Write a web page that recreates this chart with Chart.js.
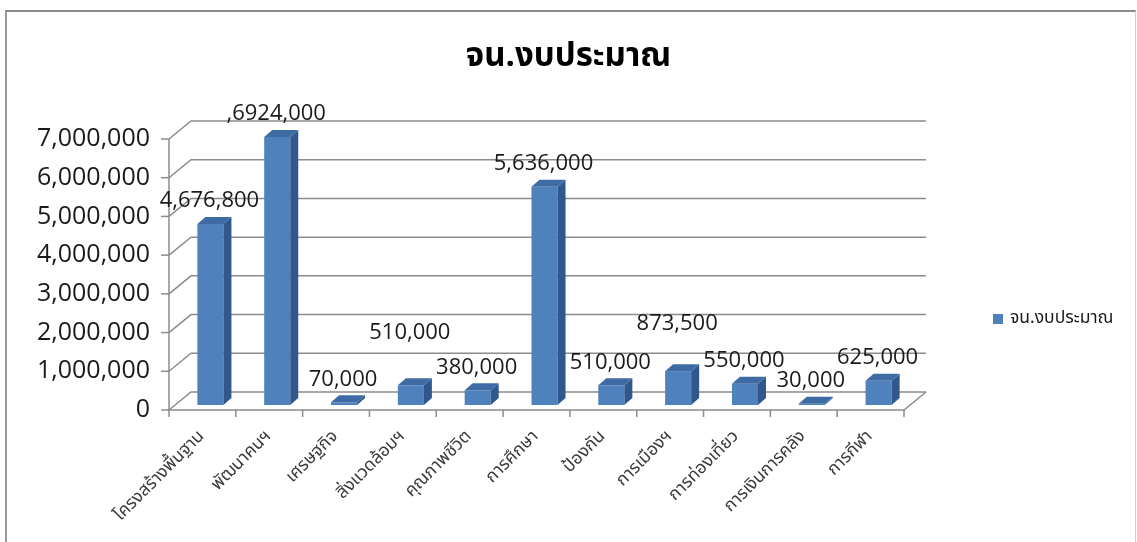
<!DOCTYPE html>
<html>
<head>
<meta charset="utf-8">
<script src="https://cdn.jsdelivr.net/npm/chart.js@4.4.1/dist/chart.umd.min.js"></script>
<style>
  html, body { margin: 0; padding: 0; background: #ffffff; }
  #wrap { position: relative; width: 1137px; height: 542px; overflow: hidden; }
  #frame { position: absolute; left: 5px; top: 10px; width: 1128px; height: 560px;
           border-top: 2px solid #8a8a8a; border-left: 2px solid #9a9a9a; border-right: 1px solid #cfcfcf; }
  canvas { position: absolute; left: 0; top: 0; }
</style>
</head>
<body>
<div id="wrap">
  <div id="frame"></div>
  <canvas id="c" width="1137" height="542"></canvas>
</div>
<script>
// ---- data ----
const categories = ['โครงสร้างพื้นฐาน', 'พัฒนาคนฯ', 'เศรษฐกิจ', 'สิ่งแวดล้อมฯ', 'คุณภาพชีวิต', 'การศึกษา', 'ป้องกัน', 'การเมืองฯ', 'การท่องเที่ยว', 'การเงินการคลัง', 'การกีฬา'];
const budgetValues = [4676800, 6924000, 70000, 510000, 380000, 5636000, 510000, 873500, 550000, 30000, 625000];
const dataLabelText = ['4,676,800', ',6924,000', '70,000', '510,000', '380,000', '5,636,000', '510,000', '873,500', '550,000', '30,000', '625,000'];
const yTickValues = [0, 1000000, 2000000, 3000000, 4000000, 5000000, 6000000, 7000000];
const seriesName = 'จน.งบประมาณ';
const chartTitle = 'จน.งบประมาณ';

// ---- style ----
const THAI = '"Noto Sans Thai", "Tahoma", "DejaVu Sans", sans-serif';
const NUM = '"Open Sans", "DejaVu Sans", sans-serif';
const WALL = { dx: 22, dy: 18 };      // back wall offset
const BARPLANE = { dx: 8, dy: 5 };    // bar front-face offset from front plane
const DEPTH = { dx: 8, dy: 7 };       // bar depth
const GRID = '#8c8c8c';
const labelLift = [0, 0, 0, 30, 0, 0, 0, 24, 0, 0, 0];

const fmt = v => v.toLocaleString('en-US');

const wall3d = {
  id: 'wall3d',
  beforeDatasetsDraw(chart) {
    const { ctx, chartArea: a, scales: { x, y } } = chart;
    ctx.save();
    ctx.strokeStyle = GRID;
    ctx.lineWidth = 1.5;
    yTickValues.forEach(v => {
      const py = y.getPixelForValue(v);
      ctx.beginPath();
      ctx.moveTo(a.left, py);
      ctx.lineTo(a.left + WALL.dx, py - WALL.dy);
      ctx.lineTo(a.right + WALL.dx, py - WALL.dy);
      ctx.stroke();
      ctx.beginPath();
      ctx.moveTo(a.left - 8, py);
      ctx.lineTo(a.left, py);
      ctx.stroke();
    });
    const y0 = y.getPixelForValue(0);
    const yTop = y.getPixelForValue(yTickValues[yTickValues.length - 1]);
    ctx.beginPath();
    ctx.moveTo(a.left, yTop);
    ctx.lineTo(a.left, y0);
    ctx.stroke();
    ctx.beginPath();
    ctx.moveTo(a.left, y0);
    ctx.lineTo(a.right, y0);
    ctx.lineTo(a.right + WALL.dx, y0 - WALL.dy);
    ctx.stroke();
    const n = categories.length;
    for (let i = 0; i <= n; i++) {
      const px = a.left + (a.right - a.left) * i / n;
      ctx.beginPath();
      ctx.moveTo(px, y0);
      ctx.lineTo(px, y0 + 7);
      ctx.stroke();
    }
    ctx.restore();
  },
  beforeDatasetDraw(chart) {
    chart.ctx.save();
    chart.ctx.translate(BARPLANE.dx, -BARPLANE.dy);
  },
  afterDatasetDraw(chart, args) {
    const ctx = chart.ctx;
    args.meta.data.forEach(el => {
      const { x, y, base, width } = el.getProps(['x', 'y', 'base', 'width'], true);
      const l = x - width / 2, r = x + width / 2;
      ctx.fillStyle = '#31588c';
      ctx.beginPath();
      ctx.moveTo(r, y);
      ctx.lineTo(r + DEPTH.dx, y - DEPTH.dy);
      ctx.lineTo(r + DEPTH.dx, base - DEPTH.dy);
      ctx.lineTo(r, base);
      ctx.closePath();
      ctx.fill();
      ctx.fillStyle = '#3e6ba4';
      ctx.beginPath();
      ctx.moveTo(l, y);
      ctx.lineTo(l + DEPTH.dx, y - DEPTH.dy);
      ctx.lineTo(r + DEPTH.dx, y - DEPTH.dy);
      ctx.lineTo(r, y);
      ctx.closePath();
      ctx.fill();
    });
    ctx.restore();
  },
  afterDraw(chart) {
    const { ctx } = chart;
    const meta = chart.getDatasetMeta(0);
    ctx.save();
    // title
    ctx.fillStyle = '#000000';
    ctx.font = 'bold 33px ' + THAI;
    ctx.textAlign = 'center';
    ctx.textBaseline = 'middle';
    ctx.fillText(chartTitle, chart.width / 2, 59);
    // data labels
    ctx.fillStyle = '#1a1a1a';
    ctx.font = '22px ' + NUM;
    meta.data.forEach((el, i) => {
      const { x, y } = el.getProps(['x', 'y'], true);
      ctx.fillText(dataLabelText[i], x + BARPLANE.dx - 1, y - BARPLANE.dy - 23 - labelLift[i]);
    });
    // legend
    ctx.fillStyle = '#4F81BD';
    ctx.fillRect(993, 314, 10, 10);
    ctx.fillStyle = '#1a1a1a';
    ctx.font = '17.5px ' + THAI;
    ctx.textAlign = 'left';
    ctx.fillText(seriesName, 1010, 319);
    ctx.restore();
  }
};

new Chart(document.getElementById('c'), {
  type: 'bar',
  data: {
    labels: categories,
    datasets: [{
      label: seriesName,
      data: budgetValues,
      backgroundColor: '#4F81BD',
      borderWidth: 0,
      categoryPercentage: 1,
      barPercentage: 0.39
    }]
  },
  options: {
    responsive: false,
    animation: false,
    devicePixelRatio: 1,
    layout: { padding: { left: 0, right: 233, top: 139, bottom: 0 } },
    plugins: {
      legend: { display: false },
      tooltip: { enabled: false },
      title: { display: false }
    },
    scales: {
      x: {
        grid: { display: false },
        border: { display: false },
        ticks: {
          color: '#3a3a3a',
          font: { family: THAI, size: 17.5 },
          minRotation: 45, maxRotation: 45,
          autoSkip: false,
          padding: 9
        },
        afterFit(s) { s.height = 132; }
      },
      y: {
        min: 0, max: 7000000,
        grid: { display: false },
        border: { display: false },
        ticks: {
          stepSize: 1000000,
          color: '#1a1a1a',
          font: { family: NUM, size: 25 },
          padding: 11,
          callback: v => fmt(v)
        },
        afterFit(s) { s.width = 169; }
      }
    }
  },
  plugins: [wall3d]
});
</script>
</body>
</html>
